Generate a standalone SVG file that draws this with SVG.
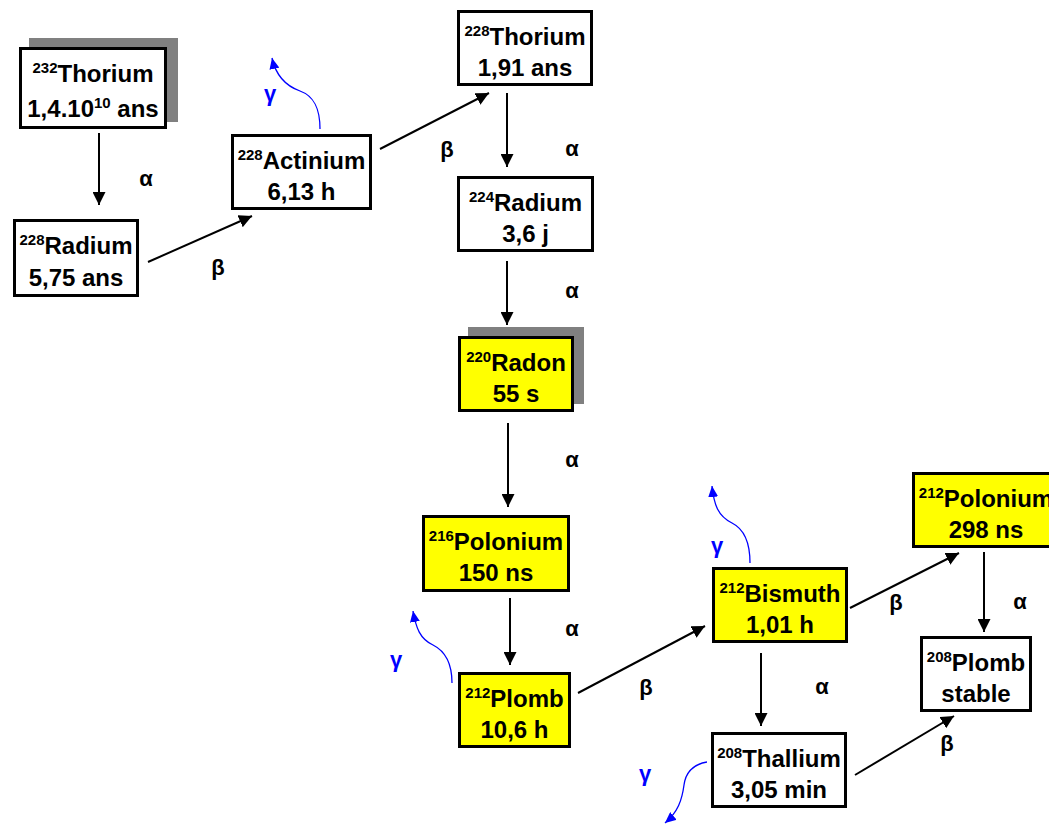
<svg xmlns="http://www.w3.org/2000/svg" width="1049" height="826" viewBox="0 0 1049 826">
<defs>
<style>
.box{stroke:#000;stroke-width:3}
.w{fill:#fff}
.y{fill:#ffff00}
.sh{fill:#808080}
.t{font-family:"Liberation Sans",Arial,sans-serif;font-weight:bold;font-size:24px;fill:#000;text-anchor:middle}
.s{font-size:15px}
.l{font-family:"Liberation Sans",Arial,sans-serif;font-weight:bold;font-size:22px;fill:#000;text-anchor:middle}
.g{fill:#0000ff}
.a{stroke:#000;stroke-width:2;fill:none;marker-end:url(#ah)}
.ga{stroke:#0000ff;stroke-width:1.3;fill:none;marker-end:url(#gh)}
</style>
<marker id="ah" markerUnits="userSpaceOnUse" markerWidth="13" markerHeight="13" refX="13" refY="6.5" orient="auto">
<path d="M0,0 L13,6.5 L0,13 Z" fill="#000"/>
</marker>
<marker id="gh" markerUnits="userSpaceOnUse" markerWidth="11" markerHeight="10" refX="11" refY="5" orient="auto">
<path d="M0,0 L11,5 L0,10 Z" fill="#0000ff"/>
</marker>
</defs>
<rect width="1049" height="826" fill="#fff"/>

<g id="connectors">
<line class="a" x1="99" y1="133" x2="99" y2="205"/>
<line class="a" x1="148" y1="262" x2="252" y2="216"/>
<line class="a" x1="380" y1="149" x2="489" y2="93"/>
<line class="a" x1="507" y1="93" x2="507" y2="167"/>
<line class="a" x1="507" y1="261" x2="507" y2="325"/>
<line class="a" x1="508" y1="423" x2="508" y2="507"/>
<line class="a" x1="510" y1="598" x2="510" y2="665"/>
<line class="a" x1="578" y1="693" x2="705" y2="626"/>
<line class="a" x1="850" y1="608" x2="959" y2="553"/>
<line class="a" x1="984" y1="552" x2="984" y2="632"/>
<line class="a" x1="761" y1="653" x2="761" y2="726"/>
<line class="a" x1="855" y1="775" x2="954" y2="716"/>
<path class="ga" d="M320,129 C320,108 314,96 300,91 C286,86 276,76 272,58"/>
<path class="ga" d="M750,563 C750,545 746,530 732,523 C718,516 714,505 712,486"/>
<path class="ga" d="M452,683 C452,665 447,652 433,645 C420,639 416,628 413,611"/>
<path class="ga" d="M707,762 C695,764 686,770 684,785 C682,800 678,812 665,823"/>
<text class="l" x="146" y="186">α</text>
<text class="l" x="218" y="275">β</text>
<text class="l" x="447" y="157">β</text>
<text class="l" x="572" y="156">α</text>
<text class="l" x="572" y="298">α</text>
<text class="l" x="572" y="467">α</text>
<text class="l" x="572" y="636">α</text>
<text class="l" x="646" y="695">β</text>
<text class="l" x="896" y="610">β</text>
<text class="l" x="1020" y="609">α</text>
<text class="l" x="822" y="694">α</text>
<text class="l" x="947" y="751">β</text>
<text class="l g" x="270" y="101">γ</text>
<text class="l g" x="717" y="553">γ</text>
<text class="l g" x="396" y="667">γ</text>
<text class="l g" x="645" y="781">γ</text>
</g>

<g id="th232">
<rect class="sh" x="29" y="38" width="149" height="84"/>
<rect class="box w" x="20.5" y="48.5" width="145" height="79"/>
<text class="t" x="93" y="82"><tspan class="s" dy="-9">232</tspan><tspan dy="9">Thorium</tspan></text>
<text class="t" x="93" y="117">1,4.10<tspan class="s" dy="-9">10</tspan><tspan dy="9"> ans</tspan></text>
</g>

<g id="ra228">
<rect class="box w" x="14.5" y="220.5" width="123" height="75"/>
<text class="t" x="76" y="254"><tspan class="s" dy="-9">228</tspan><tspan dy="9">Radium</tspan></text>
<text class="t" x="76" y="286">5,75 ans</text>
</g>

<g id="ac228">
<rect class="box w" x="232.5" y="135.5" width="138" height="73"/>
<text class="t" x="301.5" y="169"><tspan class="s" dy="-9">228</tspan><tspan dy="9">Actinium</tspan></text>
<text class="t" x="301.5" y="200">6,13 h</text>
</g>

<g id="th228">
<rect class="box w" x="458.5" y="11.5" width="133" height="73"/>
<text class="t" x="525" y="45"><tspan class="s" dy="-9">228</tspan><tspan dy="9">Thorium</tspan></text>
<text class="t" x="525" y="76">1,91 ans</text>
</g>

<g id="ra224">
<rect class="box w" x="458.5" y="177.5" width="134" height="73"/>
<text class="t" x="525.5" y="211"><tspan class="s" dy="-9">224</tspan><tspan dy="9">Radium</tspan></text>
<text class="t" x="525.5" y="242">3,6 j</text>
</g>

<g id="rn220">
<rect class="sh" x="468" y="327" width="116" height="77"/>
<rect class="box y" x="459.5" y="337.5" width="113" height="73"/>
<text class="t" x="516" y="371"><tspan class="s" dy="-9">220</tspan><tspan dy="9">Radon</tspan></text>
<text class="t" x="516" y="402">55 s</text>
</g>

<g id="po216">
<rect class="box y" x="423.5" y="516.5" width="145" height="74"/>
<text class="t" x="496" y="550"><tspan class="s" dy="-9">216</tspan><tspan dy="9">Polonium</tspan></text>
<text class="t" x="496" y="581">150 ns</text>
</g>

<g id="pb212">
<rect class="box y" x="459.5" y="673.5" width="110" height="73"/>
<text class="t" x="514.5" y="707"><tspan class="s" dy="-9">212</tspan><tspan dy="9">Plomb</tspan></text>
<text class="t" x="514.5" y="738">10,6 h</text>
</g>

<g id="bi212">
<rect class="box y" x="713.5" y="568.5" width="133" height="73"/>
<text class="t" x="780" y="602"><tspan class="s" dy="-9">212</tspan><tspan dy="9">Bismuth</tspan></text>
<text class="t" x="780" y="633">1,01 h</text>
</g>

<g id="po212">
<rect class="box y" x="913.5" y="473.5" width="145" height="73"/>
<text class="t" x="986" y="507"><tspan class="s" dy="-9">212</tspan><tspan dy="9">Polonium</tspan></text>
<text class="t" x="986" y="538">298 ns</text>
</g>

<g id="pb208">
<rect class="box w" x="921.5" y="637.5" width="109" height="73"/>
<text class="t" x="976" y="671"><tspan class="s" dy="-9">208</tspan><tspan dy="9">Plomb</tspan></text>
<text class="t" x="976" y="702">stable</text>
</g>

<g id="tl208">
<rect class="box w" x="712.5" y="733.5" width="133" height="73"/>
<text class="t" x="779" y="767"><tspan class="s" dy="-9">208</tspan><tspan dy="9">Thallium</tspan></text>
<text class="t" x="779" y="798">3,05 min</text>
</g>
</svg>
